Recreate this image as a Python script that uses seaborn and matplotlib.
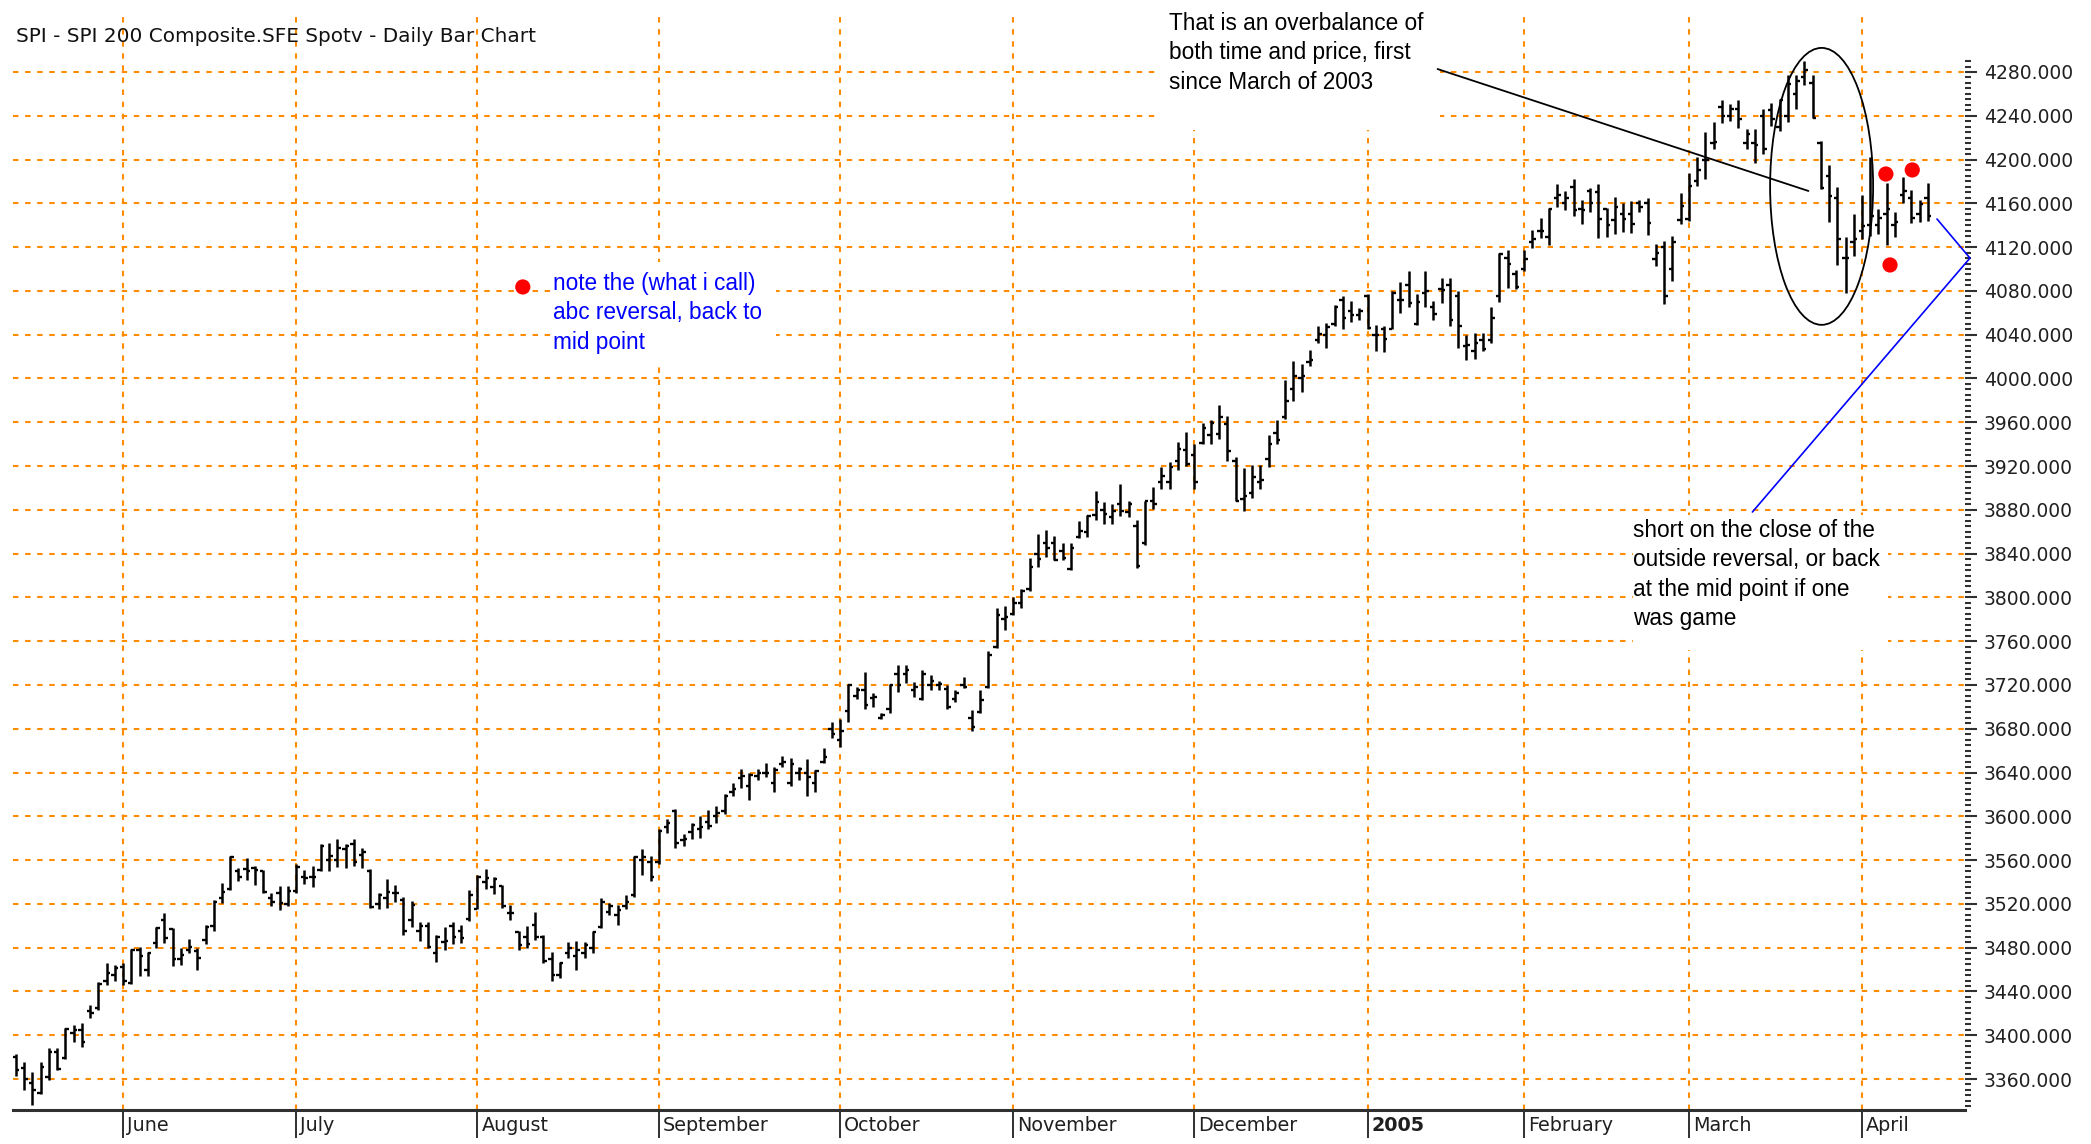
import numpy as np
import matplotlib
matplotlib.use('Agg')
import matplotlib.pyplot as plt
import matplotlib.transforms as mtransforms
from matplotlib.patches import Ellipse, Rectangle
from matplotlib.ticker import FixedLocator, FormatStrFormatter
import seaborn as sns

# Daily OHLC of the SPI 200 futures, one row per trading day (13 May 2004 - 13 Apr 2005)
opens = [3380, 3370, 3356, 3347, 3362, 3385, 3379, 3402, 3405, 3422, 3425, 3450, 3455, 3462, 3448, 3478,
         3460, 3484, 3505, 3497, 3470, 3478, 3477, 3487, 3500, 3525, 3534, 3550, 3552, 3553, 3550, 3525,
         3530, 3520, 3532, 3545, 3545, 3551, 3560, 3560, 3570, 3575, 3565, 3550, 3520, 3525, 3530, 3524,
         3505, 3495, 3500, 3475, 3485, 3500, 3495, 3506, 3515, 3540, 3535, 3536, 3512, 3494, 3490, 3501,
         3490, 3470, 3455, 3475, 3472, 3475, 3480, 3499, 3513, 3510, 3518, 3528, 3560, 3558, 3558, 3590,
         3605, 3578, 3586, 3588, 3595, 3600, 3605, 3622, 3635, 3628, 3637, 3640, 3630, 3648, 3630, 3640,
         3640, 3630, 3650, 3680, 3670, 3696, 3710, 3715, 3708, 3690, 3698, 3730, 3730, 3715, 3707, 3720,
         3720, 3716, 3707, 3720, 3690, 3695, 3718, 3755, 3780, 3785, 3795, 3808, 3840, 3850, 3850, 3842,
         3826, 3855, 3860, 3875, 3880, 3873, 3885, 3878, 3865, 3850, 3888, 3905, 3905, 3925, 3935, 3930,
         3941, 3948, 3949, 3958, 3925, 3890, 3895, 3905, 3926, 3950, 3965, 3990, 4000, 4015, 4035, 4040,
         4050, 4072, 4062, 4058, 4075, 4040, 4045, 4045, 4072, 4085, 4050, 4078, 4065, 4082, 4085, 4075,
         4030, 4025, 4035, 4035, 4075, 4110, 4095, 4100, 4125, 4135, 4129, 4165, 4160, 4175, 4155, 4171,
         4170, 4155, 4145, 4150, 4150, 4160, 4160, 4109, 4120, 4100, 4145, 4146, 4180, 4200, 4215, 4248,
         4240, 4246, 4215, 4215, 4240, 4245, 4230, 4240, 4260, 4275, 4270, 4215, 4185, 4165, 4110, 4125,
         4135, 4140, 4140, 4150, 4140, 4168, 4165, 4150, 4165]
highs = [3383, 3376, 3366, 3376, 3388, 3388, 3407, 3409, 3411, 3428, 3449, 3466, 3464, 3466, 3479, 3481,
         3476, 3499, 3512, 3498, 3480, 3488, 3480, 3501, 3524, 3539, 3564, 3553, 3562, 3555, 3551, 3530,
         3536, 3536, 3556, 3551, 3555, 3575, 3576, 3579, 3575, 3579, 3571, 3552, 3530, 3543, 3537, 3526,
         3523, 3503, 3503, 3492, 3499, 3503, 3501, 3533, 3546, 3552, 3545, 3537, 3519, 3495, 3500, 3513,
         3492, 3476, 3467, 3485, 3486, 3485, 3495, 3525, 3521, 3519, 3528, 3564, 3570, 3564, 3588, 3598,
         3607, 3584, 3594, 3600, 3606, 3609, 3620, 3630, 3643, 3640, 3643, 3649, 3645, 3655, 3653, 3645,
         3652, 3642, 3662, 3686, 3689, 3721, 3718, 3732, 3713, 3694, 3721, 3738, 3738, 3723, 3734, 3729,
         3724, 3720, 3715, 3727, 3697, 3715, 3751, 3790, 3792, 3800, 3808, 3836, 3858, 3862, 3856, 3850,
         3850, 3870, 3875, 3897, 3887, 3885, 3904, 3888, 3871, 3888, 3901, 3919, 3924, 3942, 3951, 3940,
         3959, 3962, 3976, 3966, 3928, 3918, 3921, 3921, 3948, 3962, 3999, 4016, 4013, 4026, 4048, 4051,
         4067, 4075, 4071, 4064, 4077, 4049, 4048, 4080, 4088, 4098, 4077, 4098, 4071, 4092, 4092, 4080,
         4040, 4042, 4042, 4065, 4115, 4117, 4099, 4117, 4136, 4147, 4156, 4178, 4171, 4182, 4163, 4174,
         4178, 4156, 4166, 4160, 4162, 4163, 4165, 4123, 4126, 4130, 4169, 4188, 4202, 4225, 4234, 4254,
         4251, 4254, 4228, 4228, 4246, 4252, 4255, 4277, 4277, 4290, 4277, 4217, 4195, 4175, 4129, 4150,
         4168, 4202, 4155, 4179, 4152, 4184, 4172, 4163, 4179]
lows = [3363, 3350, 3336, 3346, 3359, 3368, 3378, 3394, 3389, 3416, 3423, 3446, 3450, 3446, 3447, 3454,
        3454, 3480, 3484, 3463, 3464, 3475, 3460, 3483, 3495, 3521, 3533, 3541, 3542, 3537, 3530, 3518,
        3514, 3518, 3530, 3538, 3535, 3550, 3550, 3554, 3553, 3555, 3553, 3516, 3515, 3516, 3522, 3492,
        3499, 3486, 3480, 3467, 3478, 3483, 3484, 3504, 3515, 3534, 3529, 3516, 3505, 3478, 3480, 3487,
        3466, 3450, 3452, 3471, 3460, 3471, 3475, 3498, 3510, 3501, 3515, 3526, 3546, 3541, 3556, 3585,
        3571, 3573, 3579, 3580, 3588, 3594, 3602, 3619, 3626, 3615, 3633, 3636, 3622, 3645, 3628, 3633,
        3619, 3622, 3649, 3672, 3663, 3686, 3707, 3698, 3700, 3689, 3694, 3714, 3722, 3709, 3706, 3715,
        3715, 3698, 3704, 3717, 3678, 3694, 3717, 3754, 3770, 3784, 3790, 3806, 3828, 3837, 3834, 3834,
        3825, 3854, 3855, 3871, 3867, 3867, 3874, 3873, 3827, 3848, 3881, 3899, 3899, 3916, 3920, 3899,
        3940, 3940, 3945, 3925, 3888, 3879, 3891, 3899, 3919, 3940, 3963, 3979, 3988, 4011, 4032, 4028,
        4048, 4045, 4052, 4053, 4045, 4025, 4024, 4045, 4060, 4065, 4049, 4065, 4053, 4069, 4048, 4028,
        4017, 4018, 4025, 4032, 4070, 4083, 4082, 4098, 4119, 4128, 4122, 4157, 4154, 4148, 4141, 4152,
        4128, 4129, 4132, 4134, 4133, 4152, 4131, 4103, 4068, 4089, 4141, 4144, 4176, 4182, 4210, 4233,
        4235, 4229, 4210, 4197, 4205, 4231, 4226, 4234, 4246, 4268, 4238, 4173, 4143, 4104, 4078, 4112,
        4127, 4130, 4132, 4122, 4129, 4160, 4142, 4143, 4144]
closes = [3368, 3360, 3350, 3371, 3385, 3369, 3406, 3405, 3394, 3420, 3447, 3457, 3461, 3450, 3478, 3472,
          3475, 3498, 3489, 3470, 3473, 3481, 3471, 3499, 3522, 3531, 3563, 3545, 3550, 3551, 3531, 3522,
          3521, 3532, 3554, 3544, 3545, 3573, 3564, 3571, 3573, 3558, 3567, 3517, 3528, 3531, 3530, 3495,
          3519, 3500, 3481, 3490, 3486, 3490, 3489, 3528, 3545, 3544, 3543, 3518, 3512, 3482, 3483, 3490,
          3468, 3455, 3466, 3480, 3478, 3482, 3494, 3522, 3518, 3514, 3522, 3563, 3563, 3545, 3587, 3594,
          3576, 3579, 3592, 3590, 3591, 3603, 3619, 3625, 3637, 3638, 3640, 3640, 3642, 3650, 3648, 3643,
          3636, 3641, 3654, 3675, 3678, 3720, 3715, 3702, 3709, 3693, 3720, 3720, 3734, 3718, 3730, 3724,
          3721, 3700, 3713, 3718, 3682, 3706, 3747, 3784, 3782, 3795, 3806, 3828, 3835, 3845, 3834, 3836,
          3845, 3861, 3874, 3887, 3876, 3879, 3879, 3885, 3829, 3888, 3885, 3911, 3919, 3936, 3922, 3905,
          3955, 3959, 3965, 3934, 3888, 3893, 3910, 3907, 3940, 3944, 3979, 4002, 4002, 4017, 4041, 4047,
          4065, 4055, 4058, 4062, 4046, 4040, 4036, 4078, 4072, 4069, 4070, 4080, 4059, 4081, 4053, 4048,
          4031, 4032, 4027, 4055, 4114, 4105, 4084, 4109, 4127, 4135, 4155, 4168, 4165, 4154, 4154, 4160,
          4146, 4140, 4157, 4146, 4141, 4157, 4142, 4115, 4075, 4125, 4158, 4176, 4190, 4200, 4216, 4240,
          4246, 4237, 4223, 4213, 4210, 4237, 4254, 4269, 4272, 4282, 4238, 4174, 4167, 4127, 4110, 4127,
          4139, 4148, 4147, 4155, 4143, 4171, 4147, 4159, 4148]

# first trading day of each month (bar index) and its label
month_starts = [13, 34, 56, 78, 100, 121, 143, 164, 183, 203, 224]
month_labels = ['June', 'July', 'August', 'September', 'October', 'November',
                'December', '2005', 'February', 'March', 'April']

# labelled price levels on the right axis
price_levels = list(range(3360, 4281, 40))

# red marker dots drawn by hand on the chart (bar index, price)
dots_x = [61.5, 226.9, 230.1, 227.4]
dots_y = [4083.6, 4186.8, 4190.5, 4103.7]

W, H = 2091, 1144
GRID = '#FF8C00'
AXC = '#303030'

sns.set_theme(style='white')
plt.rcParams['font.family'] = ['DejaVu Sans']

fig = plt.figure(figsize=(W / 100, H / 100), dpi=100, facecolor='white')
ax = fig.add_axes([13 / W, 34 / H, (1965 - 13) / W, 1098 / H])
ax.set_facecolor('white')

idx = np.arange(len(closes))

# OHLC bars: vertical range, open tick left, close tick right
ax.vlines(idx, lows, highs, color='black', linewidth=1.8, zorder=3)
ax.hlines(opens, idx - 0.42, idx, color='black', linewidth=1.7, zorder=3)
ax.hlines(closes, idx, idx + 0.42, color='black', linewidth=1.7, zorder=3)

ax.set_xlim(-0.36, 236.5)
ax.set_ylim(3331.7, 4334.8)

# grid: orange dashes at every price level and every month start
ax.set_axisbelow(True)
ax.xaxis.set_major_locator(FixedLocator(month_starts))
ax.set_xticklabels(month_labels)
ax.yaxis.set_major_locator(FixedLocator(price_levels))
ax.yaxis.set_minor_locator(FixedLocator(np.arange(3335, 4291, 5)))
ax.yaxis.set_major_formatter(FormatStrFormatter('%.3f'))
ax.grid(True, which='major', color=GRID, linestyle=(0, (2.6, 3.2)), linewidth=1.5)

# axes frame
for s in ['left', 'top', 'right']:
    ax.spines[s].set_visible(False)
ax.spines['bottom'].set_color(AXC)
ax.spines['bottom'].set_linewidth(2.2)

ax.yaxis.tick_right()
ax.tick_params(axis='y', which='major', direction='out', length=8.5, width=1.5,
               color=AXC, labelsize=13.5, labelcolor='#202020', pad=5)
ax.tick_params(axis='y', which='minor', direction='out', length=4.5, width=1.5,
               color=AXC, right=True)
ax.tick_params(axis='x', which='major', bottom=True, direction='out', length=20, width=1.4,
               color=AXC, labelsize=13.8, labelcolor='#202020', pad=-15.5)
offset = mtransforms.ScaledTranslation(4 / 100, 0, fig.dpi_scale_trans)
for lab in ax.get_xticklabels():
    lab.set_horizontalalignment('left')
    lab.set_transform(lab.get_transform() + offset)
    if lab.get_text() == '2005':
        lab.set_fontweight('bold')

# white boxes behind the notes hide the grid
for (x0, x1, y0, y1) in [(138.8, 172.8, 4227.0, 4340.0),
                         (65.2, 92.2, 4012.3, 4106.4),
                         (196.2, 227.1, 3751.9, 3875.3)]:
    ax.add_patch(Rectangle((x0, y0), x1 - x0, y1 - y0, facecolor='white',
                           edgecolor='none', zorder=1))

# hand drawn markings
ax.add_patch(Ellipse((219.1, 4175.5), 12.5, 253, fill=False, edgecolor='black',
                     linewidth=1.3, zorder=4))
ax.plot([172.5, 217.5], [4282.7, 4171.3], color='black', linewidth=1.3, zorder=4)
ax.plot([233.1, 237.1, 210.7], [4145.7, 4110.0, 3878.0], color='blue',
        linewidth=1.2, zorder=4, clip_on=False)
sns.scatterplot(x=dots_x, y=dots_y, color='red', s=120, edgecolor='none',
                ax=ax, zorder=5, legend=False)
ax.set_xlabel('')
ax.set_ylabel('')


def px(x, y):
    # figure pixel position -> figure fraction
    return x / W, 1 - y / H


fig.text(*px(16, 37), 'SPI - SPI 200 Composite.SFE Spotv - Daily Bar Chart',
         fontsize=14.4, color='#111111', va='center', ha='left')

note_font = dict(family=['Liberation Sans', 'DejaVu Sans'], fontsize=16.3,
                 ha='left', va='top', linespacing=1.36)
fig.text(*px(1169, 12), 'That is an overbalance of\nboth time and price, first\nsince March of 2003',
         color='black', **note_font)
fig.text(*px(553, 272), 'note the (what i call)\nabc reversal, back to\nmid point',
         color='blue', **note_font)
fig.text(*px(1633, 519), 'short on the close of the\noutside reversal, or back\nat the mid point if one\nwas game',
         color='black', **note_font)

fig.savefig('out.png', dpi=100, facecolor='white')
plt.close(fig)
